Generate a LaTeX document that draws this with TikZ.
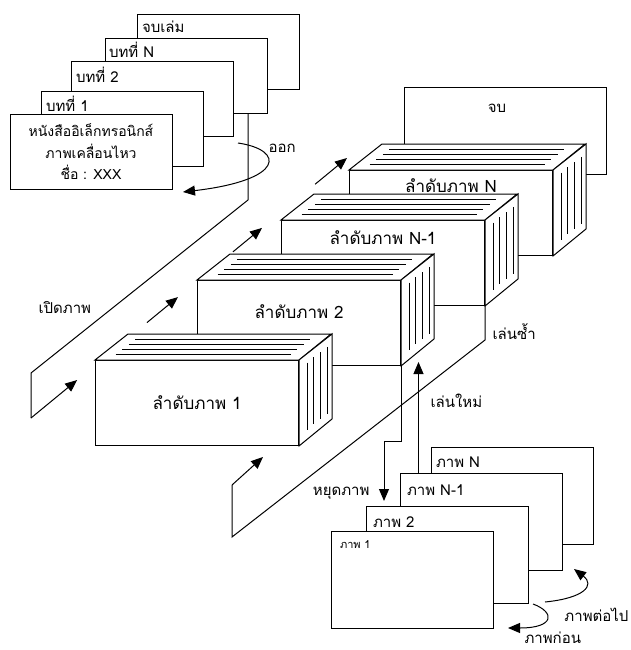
\documentclass[tikz,border=0pt]{standalone}
\usepackage{fontspec}
\setmainfont[Script=Thai]{Loma}
\usetikzlibrary{arrows.meta,positioning,calc}

\begin{document}
\begin{tikzpicture}[x=1pt, y=-1pt, line width=1pt,
    page/.style={draw, fill=white, minimum width=162pt, minimum height=75pt, inner sep=0pt},
    photo/.style={draw, fill=white, minimum width=162pt, minimum height=97pt, inner sep=0pt},
    block/.style={draw, fill=white, minimum width=203pt, minimum height=85pt, inner sep=0pt},
    lbl/.style={font=\fontsize{15}{17}\selectfont, inner sep=0pt},
    flow/.style={-{Triangle[length=12pt, width=10pt]}}]
    \useasboundingbox (0,0) rectangle (630,650);

    % Open strip (left)
    \coordinate (ls1) at (31,418);
    \coordinate (ls2) at (31,373);
    \coordinate (ls3) at (248,200);
    \coordinate (ls4) at (347,158);
    \node[lbl, anchor=base west] (openlbl) at (38,313) {เปิดภาพ};
    \foreach \a/\b in {0/0.146, 0.367/0.465, 0.639/0.731, 0.899/1}
        \draw[flow] ($(ls1)!\a!(ls4)$) -- ($(ls1)!\b!(ls4)$);

    % Book pages, back to front
    \node[page] (bookend) at (218,52) {};
    \node[lbl, anchor=base west] (bookendlbl) at ($(bookend.north west)+(5,19)$) {จบเล่ม};
    \node[page] (chN) at (186,76) {};
    \node[lbl, anchor=base west] (chNlbl) at ($(chN.north west)+(4,20)$) {บทที่ N};
    \node[page] (ch2) at (152,99) {};
    \node[lbl, anchor=base west] (ch2lbl) at ($(ch2.north west)+(5,22)$) {บทที่ 2};
    \node[page] (ch1) at (122,129) {};
    \node[lbl, anchor=base west] (ch1lbl) at ($(ch1.north west)+(5,21)$) {บทที่ 1};
    \node[page, align=center, font=\fontsize{14}{21.5}\selectfont] (book) at (91,152)
        {หนังสืออิเล็กทรอนิกส์\\ภาพเคลื่อนไหว\\ชื่อ : XXX};

    \draw (ls1) -- (ls2) -- (ls3) -- (ls3 |- chN.south);

    % Exit arrow
    \coordinate (exitA) at (238,143);
    \coordinate (exitB) at (183,192);
    \draw[flow] (exitA) .. controls (285,150) and (285,180) .. (exitB);
    \node[lbl, anchor=base west] (exitlbl) at (268,152) {ออก};

    % End frame
    \node[draw, fill=white, minimum width=202pt, minimum height=87pt] (finish) at (505,131) {};
    \node[lbl] (finishlbl) at (497,108) {จบ};

    % Sequence blocks, back to front
    \foreach \n/\x/\y/\ty/\txt in {seqN/451/213/186/ลำดับภาพ N, seqM/383/263/238/ลำดับภาพ N-1,
                                   seq2/299/323/312/ลำดับภาพ 2, seq1/197/403/403/ลำดับภาพ 1} {
        \node[block] (\n) at (\x,\y) {};
        \draw[fill=white] (\n.north west) -- ++(33,-26) -- ++(203,0) -- (\n.north east) -- cycle;
        \draw[fill=white] (\n.north east) -- ++(33,-26) -- ++(0,85) -- (\n.south east) -- cycle;
        \foreach \t in {0.2,0.4,0.6,0.8}
            \draw ($(\n.north west)+\t*(33,-26)+(14,0)$) -- ++(175,0);
        \foreach \t in {0.25,0.45,0.65,0.85}
            \draw ($(\n.north east)+\t*(33,-26)+(0,9)$) -- ++(0,67);
        \node[lbl, font=\fontsize{17}{19}\selectfont] (\n-lbl) at (\x,\ty) {\txt};
    }

    % Replay strip (right)
    \coordinate (rs1) at (232,537);
    \coordinate (rs2) at (232,485);
    \coordinate (rs3) at ($(seqM.south east)+(0,34)$);
    \draw (rs2) -- (rs1) -- (rs3) -- (seqM.south east);
    \draw[flow] (rs2) -- ++(31,-28);
    \node[lbl, anchor=base west] (replaylbl) at (492,339) {เล่นซ้ำ};

    % Stop
    \draw[flow] (seq2.south east) -- ++(0,75) -- ++(-17,0) -- ++(0,60);
    \node[lbl, anchor=base east] (stoplbl) at (370,495) {หยุดภาพ};

    % Frame pages, back to front
    \node[photo] (pN) at (512,496) {};
    \node[lbl, anchor=base west] (pNlbl) at ($(pN.north west)+(5,20)$) {ภาพ N};
    \node[photo] (pM) at (481,522) {};
    \node[lbl, anchor=base west] (pMlbl) at ($(pM.north west)+(7,22)$) {ภาพ N-1};
    \node[photo] (p2) at (447,555) {};
    \node[lbl, anchor=base west] (p2lbl) at ($(p2.north west)+(7,21)$) {ภาพ 2};
    \node[photo] (p1) at (412,580) {};
    \node[lbl, anchor=base west, font=\fontsize{11}{13}\selectfont] (p1lbl) at ($(p1.north west)+(9,17)$) {ภาพ 1};

    % Restart
    \draw[flow] ($(pM.north west)+(19,0)$) -- ++(0,-111);
    \node[lbl, anchor=base west] (restartlbl) at (430,407) {เล่นใหม่};

    % Next and previous
    \coordinate (nextA) at (545,602);
    \coordinate (nextB) at (574,569);
    \draw[flow] (nextA) .. controls (585,598) and (595,585) .. (nextB);
    \node[lbl, anchor=base east] (nextlbl) at (629,621) {ภาพต่อไป};
    \coordinate (prevA) at (533,604);
    \coordinate (prevB) at (508,628);
    \draw[flow] (prevA) .. controls (555,612) and (555,628) .. (prevB);
    \node[lbl, anchor=base west] (prevlbl) at (524,643) {ภาพก่อน};
\end{tikzpicture}
\end{document}
